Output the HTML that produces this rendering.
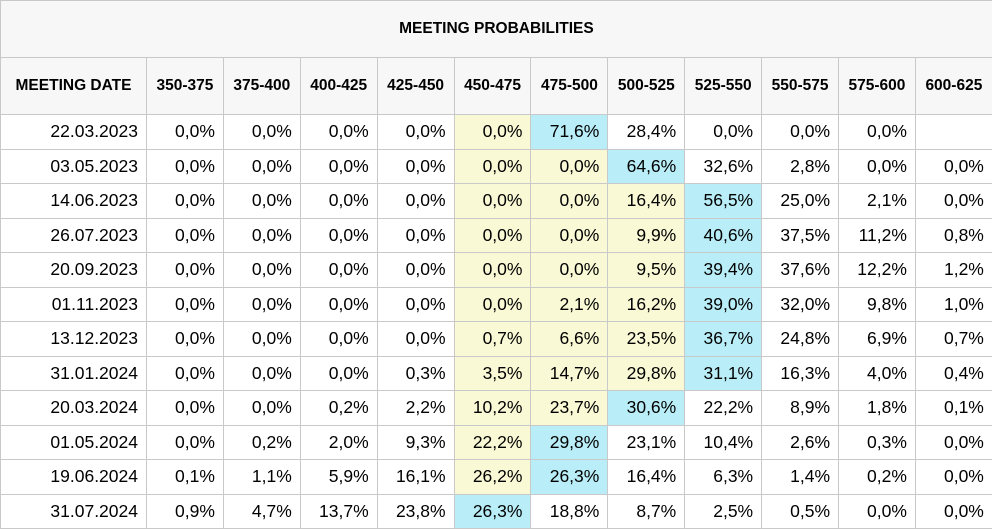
<!DOCTYPE html>
<html><head><meta charset="utf-8">
<style>
html,body{margin:0;padding:0;background:#fff;}
table{border-collapse:collapse;table-layout:fixed;width:992px;font-family:"Liberation Sans",Arial,sans-serif;color:#000;}
td,th{border:1px solid #c9c9c9;padding:0 8px 0 0;white-space:nowrap;overflow:hidden;}
th{background:#f7f7f7;font-weight:bold;font-size:15.5px;text-align:center;padding:0;}
.title th{height:56px;}
.hdr th{height:56px;}
td{height:33.5px;font-size:17.5px;text-align:right;}
td.y{background:#f9f9d5;}
td.c{background:#b9eef8;}
</style></head>
<body>
<table>
<colgroup><col style="width:146px"><col span="11" style="width:76.9px"></colgroup>
<thead>
<tr class="title"><th colspan="12">MEETING PROBABILITIES</th></tr>
<tr class="hdr" id="hdr"></tr>
</thead>
<tbody id="body"></tbody>
</table>
<script>
const ranges=["350-375","375-400","400-425","425-450","450-475","475-500","500-525","525-550","550-575","575-600","600-625"];
const dates=["22.03.2023","03.05.2023","14.06.2023","26.07.2023","20.09.2023","01.11.2023","13.12.2023","31.01.2024","20.03.2024","01.05.2024","19.06.2024","31.07.2024"];
const r1=["0,0%","0,0%","0,0%","0,0%","0,0%","71,6%","28,4%","0,0%","0,0%","0,0%",""];
const r2=["0,0%","0,0%","0,0%","0,0%","0,0%","0,0%","64,6%","32,6%","2,8%","0,0%","0,0%"];
const r3=["0,0%","0,0%","0,0%","0,0%","0,0%","0,0%","16,4%","56,5%","25,0%","2,1%","0,0%"];
const r4=["0,0%","0,0%","0,0%","0,0%","0,0%","0,0%","9,9%","40,6%","37,5%","11,2%","0,8%"];
const r5=["0,0%","0,0%","0,0%","0,0%","0,0%","0,0%","9,5%","39,4%","37,6%","12,2%","1,2%"];
const r6=["0,0%","0,0%","0,0%","0,0%","0,0%","2,1%","16,2%","39,0%","32,0%","9,8%","1,0%"];
const r7=["0,0%","0,0%","0,0%","0,0%","0,7%","6,6%","23,5%","36,7%","24,8%","6,9%","0,7%"];
const r8=["0,0%","0,0%","0,0%","0,3%","3,5%","14,7%","29,8%","31,1%","16,3%","4,0%","0,4%"];
const r9=["0,0%","0,0%","0,2%","2,2%","10,2%","23,7%","30,6%","22,2%","8,9%","1,8%","0,1%"];
const r10=["0,0%","0,2%","2,0%","9,3%","22,2%","29,8%","23,1%","10,4%","2,6%","0,3%","0,0%"];
const r11=["0,1%","1,1%","5,9%","16,1%","26,2%","26,3%","16,4%","6,3%","1,4%","0,2%","0,0%"];
const r12=["0,9%","4,7%","13,7%","23,8%","26,3%","18,8%","8,7%","2,5%","0,5%","0,0%","0,0%"];
const rows=[r1,r2,r3,r4,r5,r6,r7,r8,r9,r10,r11,r12];
const hdr=document.getElementById('hdr');
const h0=document.createElement('th');h0.textContent='MEETING DATE';


hdr.appendChild(h0);
ranges.forEach(r=>{const th=document.createElement('th');th.textContent=r;


hdr.appendChild(th);});
const body=document.getElementById('body');
const num=s=>s===""?-1:parseFloat(s.replace(',','.'));
rows.forEach((row,i)=>{
  const tr=document.createElement('tr');
  
  
  const d=document.createElement('td');d.textContent=dates[i];
  
  
  tr.appendChild(d);
  let mx=0;row.forEach((v,j)=>{if(num(v)>num(row[mx]))mx=j;});
  row.forEach((v,j)=>{
    const td=document.createElement('td');td.textContent=v;
    if(j===mx)td.className='c';else if(j>=4&&j<mx)td.className='y';
    
    
    tr.appendChild(td);
  });
  body.appendChild(tr);
});
</script>
</body></html>
